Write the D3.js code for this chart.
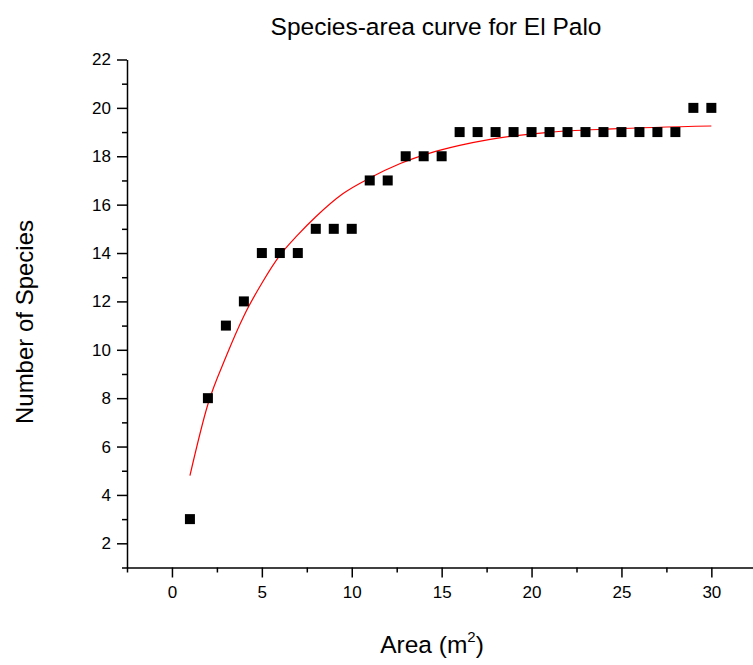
<!DOCTYPE html>
<html>
<head>
<meta charset="utf-8">
<script src="https://cdn.jsdelivr.net/npm/d3@7"></script>
<style>
  body { margin: 0; background: #fff; }
  text { font-family: "Liberation Sans", Arial, sans-serif; fill: #000; }
</style>
</head>
<body>
<figure id="chart" style="margin:0"></figure>
<script>
// Observed species counts per sampled area
const areas = d3.range(1, 31);
const species = [3, 8, 11, 12, 14, 14, 14, 15, 15, 15, 17, 17, 18, 18, 18,
  19, 19, 19, 19, 19, 19, 19, 19, 19, 19, 19, 19, 19, 20, 20];

// Fitted curve
const fitX = [1, 2, 3, 4, 5, 6, 7, 8, 9.5, 11, 12.7, 14.3, 16, 17.7, 20.8, 24.5, 30];
const fitY = [4.8, 7.75, 9.7, 11.4, 12.75, 13.9, 14.75, 15.5, 16.45, 17.1, 17.7, 18.12, 18.45, 18.7, 18.98, 19.13, 19.25];

const xMajor = [0, 5, 10, 15, 20, 25, 30];
const yMajor = [2, 4, 6, 8, 10, 12, 14, 16, 18, 20, 22];

const width = 753, height = 665;
const plotLeft = 127, plotBottom = 567.5, plotTop = 59.5;
const font = "Liberation Sans, Arial, sans-serif";

const svg = d3.select("#chart").append("svg")
  .attr("width", width)
  .attr("height", height);

const x = d3.scaleLinear().domain([-2.5, 32.5]).range([plotLeft, plotLeft + 35 * 17.98]);
const y = d3.scaleLinear().domain([1, 22]).range([plotBottom, plotTop]);

// Minor ticks first, then the major axis over them
svg.append("g")
  .attr("transform", `translate(0,${plotBottom})`)
  .call(d3.axisBottom(x).tickValues(d3.range(-2.5, 33, 5)).tickSize(5).tickFormat(""))
  .call(g => g.select(".domain").remove())
  .selectAll("line").attr("stroke-width", 1.5);

svg.append("g")
  .attr("transform", `translate(0,${plotBottom})`)
  .call(d3.axisBottom(x).tickValues(xMajor).tickSize(10).tickSizeOuter(0).tickPadding(8))
  .call(g => g.select(".domain").attr("stroke-width", 1.5))
  .call(g => g.selectAll("line").attr("stroke-width", 1.5))
  .call(g => g.selectAll("text").attr("font-size", 17).attr("font-family", font));

svg.append("g")
  .attr("transform", `translate(${plotLeft},0)`)
  .call(d3.axisLeft(y).tickValues(d3.range(1, 22, 2)).tickSize(5).tickFormat(""))
  .call(g => g.select(".domain").remove())
  .selectAll("line").attr("stroke-width", 1.5);

svg.append("g")
  .attr("transform", `translate(${plotLeft},0)`)
  .call(d3.axisLeft(y).tickValues(yMajor).tickSize(10).tickSizeOuter(0).tickPadding(6))
  .call(g => g.select(".domain").attr("stroke-width", 1.5))
  .call(g => g.selectAll("line").attr("stroke-width", 1.5))
  .call(g => g.selectAll("text").attr("font-size", 17).attr("font-family", font));

// Fitted curve
const line = d3.line()
  .x((d, i) => x(fitX[i]))
  .y(d => y(d))
  .curve(d3.curveMonotoneX);

svg.append("path")
  .datum(fitY)
  .attr("fill", "none")
  .attr("stroke", "#ff0000")
  .attr("stroke-width", 1.2)
  .attr("d", line);

// Data points
const s = 10;
svg.append("g")
  .selectAll("rect")
  .data(species)
  .join("rect")
  .attr("x", (d, i) => x(areas[i]) - s / 2)
  .attr("y", d => y(d) - s / 2)
  .attr("width", s)
  .attr("height", s)
  .attr("fill", "#000");

// Titles
svg.append("text")
  .attr("x", 436)
  .attr("y", 35)
  .attr("text-anchor", "middle")
  .attr("font-size", 24.5)
  .text("Species-area curve for El Palo");

const xl = svg.append("text")
  .attr("x", 432)
  .attr("y", 653)
  .attr("text-anchor", "middle")
  .attr("font-size", 24.5);
xl.append("tspan").text("Area (m");
xl.append("tspan").attr("font-size", 15).attr("dy", -11).text("2");
xl.append("tspan").attr("dy", 11).text(")");

svg.append("text")
  .attr("transform", "translate(33,322) rotate(-90)")
  .attr("text-anchor", "middle")
  .attr("font-size", 24)
  .text("Number of Species");
</script>
</body>
</html>
